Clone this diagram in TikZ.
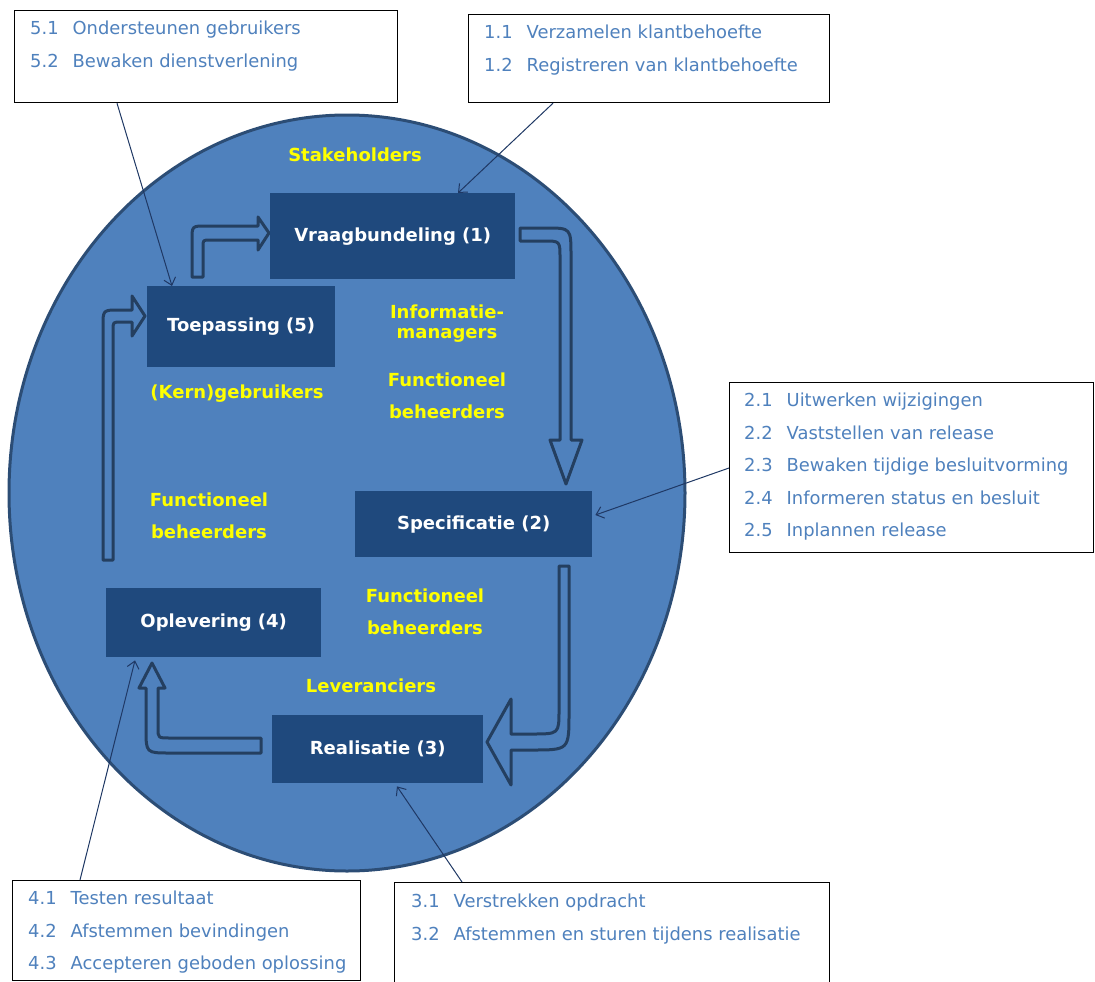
\documentclass[tikz,border=0pt]{standalone}
\usepackage{fontspec}
\setmainfont{DejaVu Sans}
\usetikzlibrary{arrows.meta,shapes.geometric}
\definecolor{ellfill}{HTML}{4F81BD}
\definecolor{elldraw}{HTML}{2C4D75}
\definecolor{boxfill}{HTML}{1F497D}
\definecolor{arrdraw}{HTML}{243F60}
\definecolor{listblue}{HTML}{4F81BD}
\definecolor{connblue}{HTML}{1F3864}
\definecolor{lblyellow}{HTML}{FFFF00}
\begin{document}
\begin{tikzpicture}[x=1pt,y=-1pt,
  phase/.style={fill=boxfill, draw=none, text=white, font=\fontsize{18}{20}\selectfont\bfseries, anchor=north west, inner sep=0},
  listbox/.style={draw=black, line width=1.2pt, fill=white, anchor=north west, inner sep=0},
  listtext/.style={text=listblue, font=\fontsize{17.9}{32.5}\selectfont, align=left, anchor=north west, inner sep=0},
  role/.style={text=lblyellow, font=\fontsize{18}{20}\selectfont\bfseries, align=center, inner sep=0},
  rolewide/.style={role, font=\fontsize{18}{32}\selectfont\bfseries},
  blockarrow/.style={draw=arrdraw, line width=3pt, fill=ellfill, line join=round},
  connarrow/.style={draw=connblue, line width=1pt, -{Straight Barb[length=7pt,width=12pt]}}
]
\useasboundingbox (0,0) rectangle (1095,982);

% big ellipse
\node[ellipse, draw=elldraw, line width=3pt, fill=ellfill, minimum width=676, minimum height=756, inner sep=0] (ell) at (347,493) {};

% block arrows
\draw[blockarrow] (192,277) -- (192,240) .. controls (192,226) .. (206,226) -- (258,226) -- (258,217) -- (269,233) -- (258,250) -- (258,240) -- (210,240) .. controls (203,240) .. (203,247) -- (203,277) -- cycle;
\draw[blockarrow] (520,228) -- (546,228) .. controls (571,228) .. (571,256) -- (571,440) -- (582,440) -- (566,484) -- (550,440) -- (560,440) -- (560,258) .. controls (560,241) .. (544,241) -- (520,241) -- cycle;
\draw[blockarrow] (559,566) -- (569,566) -- (569,713) .. controls (569,750) .. (532,750) -- (511,750) -- (511,785) -- (487,742) -- (511,699) -- (511,734) -- (532,734) .. controls (559,734) .. (559,710) -- cycle;
\draw[blockarrow] (261,738) -- (261,753) -- (170,753) .. controls (146,753) .. (146,729) -- (146,688) -- (139,688) -- (152,663) -- (165,688) -- (158,688) -- (158,728) .. controls (158,738) .. (170,738) -- cycle;
\draw[blockarrow] (103,560) -- (103,326) .. controls (103,310) .. (119,310) -- (132,310) -- (132,296) -- (145,316) -- (132,336) -- (132,322) -- (121,322) .. controls (113,322) .. (113,330) -- (113,560) -- cycle;

% phase boxes
\node[phase, minimum width=245, minimum height=86] (p1) at (270,193) {Vraagbundeling (1)};
\node[phase, minimum width=188, minimum height=81] (p5) at (147,286) {Toepassing (5)};
\node[phase, minimum width=237, minimum height=66] (p2) at (355,491) {Specificatie (2)};
\node[phase, minimum width=215, minimum height=69] (p4) at (106,588) {Oplevering (4)};
\node[phase, minimum width=211, minimum height=68] (p3) at (272,715) {Realisatie (3)};

% role labels
\node[role] (stake) at (355,155) {Stakeholders};
\node[role] (infm) at (447,324) {Informatie-\\managers};
\node[rolewide] (fb1) at (447,396) {Functioneel\\beheerders};
\node[role] (kern) at (237,394) {(Kern)gebruikers};
\node[rolewide] (fb2) at (209,516) {Functioneel\\beheerders};
\node[rolewide] (fb3) at (425,612) {Functioneel\\beheerders};
\node[role] (lev) at (371,686) {Leveranciers};

% list boxes
\node[listbox, minimum width=383, minimum height=92] (b5) at (14,10) {};
\node[listtext] (t5) at ([shift={(16,11)}]b5.north west) {5.1\hspace{14pt}Ondersteunen gebruikers\\5.2\hspace{14pt}Bewaken dienstverlening};
\node[listbox, minimum width=361, minimum height=88] (b1) at (468,14) {};
\node[listtext] (t1) at ([shift={(16,11)}]b1.north west) {1.1\hspace{14pt}Verzamelen klantbehoefte\\1.2\hspace{14pt}Registreren van klantbehoefte};
\node[listbox, minimum width=364, minimum height=170] (b2) at (729,382) {};
\node[listtext] (t2) at ([shift={(15,11)}]b2.north west) {2.1\hspace{14pt}Uitwerken wijzigingen\\2.2\hspace{14pt}Vaststellen van release\\2.3\hspace{14pt}Bewaken tijdige besluitvorming\\2.4\hspace{14pt}Informeren status en besluit\\2.5\hspace{14pt}Inplannen release};
\node[listbox, minimum width=348, minimum height=100] (b4) at (12,880) {};
\node[listtext] (t4) at ([shift={(16,11)}]b4.north west) {4.1\hspace{14pt}Testen resultaat\\4.2\hspace{14pt}Afstemmen bevindingen\\4.3\hspace{14pt}Accepteren geboden oplossing};
\node[listbox, minimum width=435, minimum height=105] (b3) at (394,882) {};
\node[listtext] (t3) at ([shift={(17,12)}]b3.north west) {3.1\hspace{14pt}Verstrekken opdracht\\3.2\hspace{14pt}Afstemmen en sturen tijdens realisatie};

% connectors
\draw[connarrow] ([shift={(103,0)}]b5.south west) -- ([shift={(25,0)}]p5.north west);
\draw[connarrow] ([shift={(85,0)}]b1.south west) -- ([shift={(188,0)}]p1.north west);
\draw[connarrow] ([shift={(0,86)}]b2.north west) -- ([shift={(3,24)}]p2.north east);
\draw[connarrow] ([shift={(68,0)}]b4.north west) -- ([shift={(29,3)}]p4.south west);
\draw[connarrow] ([shift={(68,0)}]b3.north west) -- ([shift={(125,3)}]p3.south west);
\end{tikzpicture}
\end{document}
